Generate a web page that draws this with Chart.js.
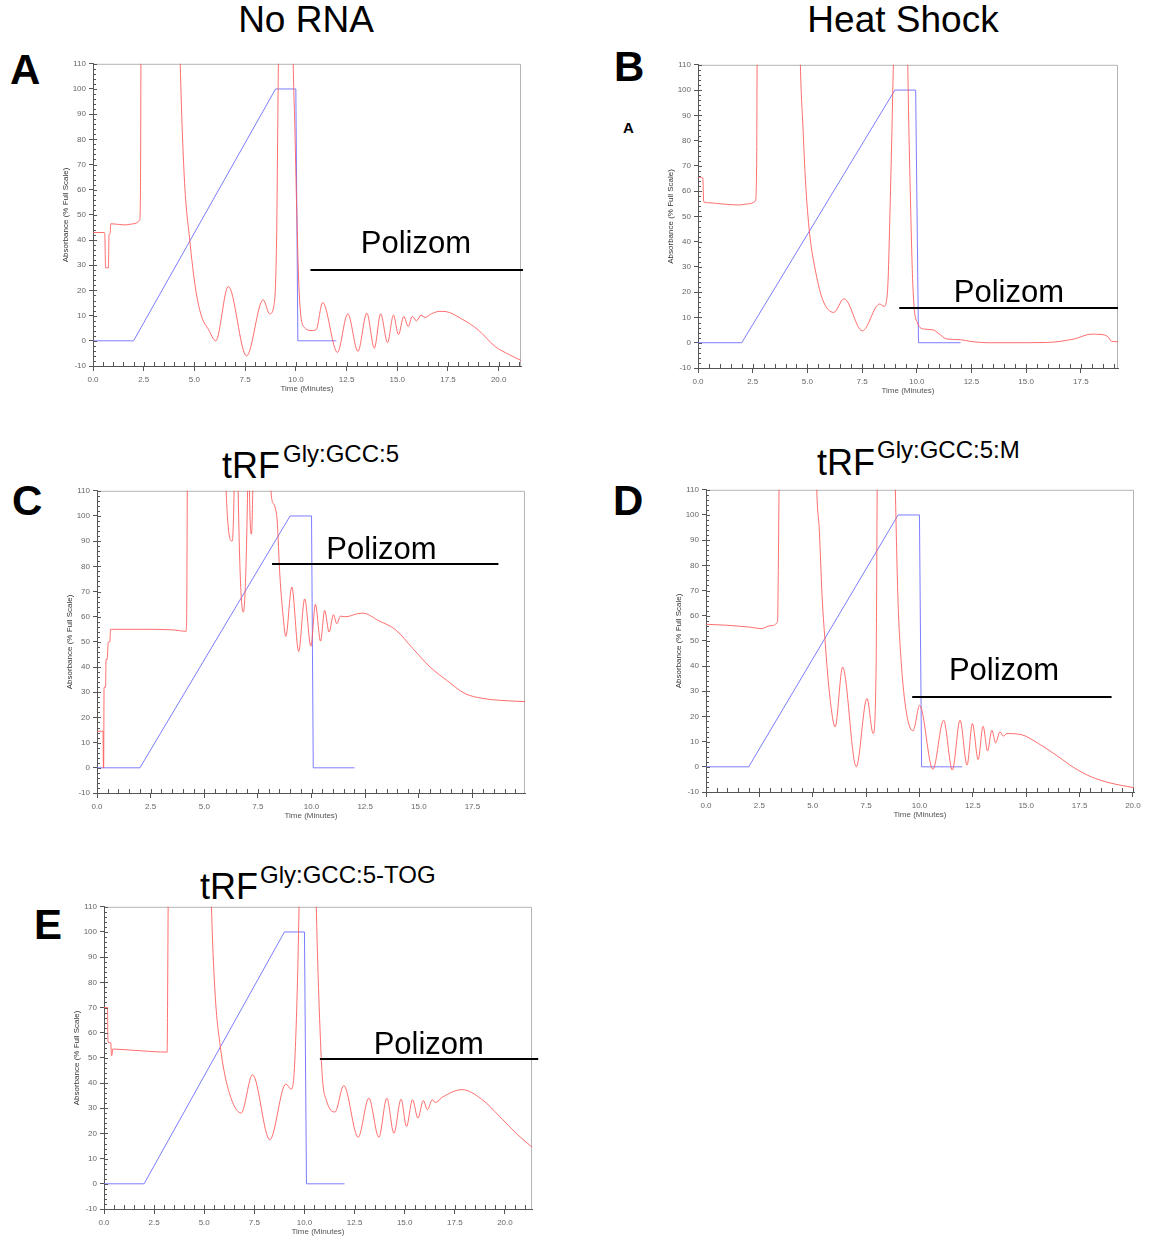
<!DOCTYPE html>
<html>
<head>
<meta charset="utf-8">
<script src="https://cdn.jsdelivr.net/npm/chart.js@4.4.1/dist/chart.umd.min.js"></script>
<style>
  body { margin: 0; background: #fff; font-family: Arial, "Liberation Sans", sans-serif; }
  #page { position: relative; width: 1150px; height: 1241px; overflow: hidden; }
  canvas { position: absolute; }
  .txt { position: absolute; line-height: 1; white-space: nowrap; color: #000; }
  .head { font-size: 37px; width: 300px; text-align: center; }
  .letter { font-size: 42px; font-weight: bold; }
  .trf { font-size: 36px; }
  .sup { font-size: 24px; }
</style>
</head>
<body>
<div id="page">
  <div class="txt head" style="left:156px; top:1px;">No RNA</div>
  <div class="txt head" style="left:753px; top:1px;">Heat Shock</div>

  <div class="txt letter" style="left:10px; top:49px;">A</div>
  <div class="txt letter" style="left:614px; top:46px;">B</div>
  <div class="txt letter" style="left:12px; top:480px;">C</div>
  <div class="txt letter" style="left:613px; top:480px;">D</div>
  <div class="txt letter" style="left:34px; top:904px;">E</div>
  <div class="txt" style="left:623px; top:120px; font-size:15px; font-weight:bold;">A</div>

  <div class="txt trf" style="left:222px; top:448px;">tRF</div>
  <div class="txt sup" style="left:283px; top:442px;">Gly:GCC:5</div>
  <div class="txt trf" style="left:817px; top:445px;">tRF</div>
  <div class="txt sup" style="left:877px; top:438px;">Gly:GCC:5:M</div>
  <div class="txt trf" style="left:200px; top:869px;">tRF</div>
  <div class="txt sup" style="left:260px; top:863px;">Gly:GCC:5-TOG</div>

  <canvas id="chartA"></canvas>
  <canvas id="chartB"></canvas>
  <canvas id="chartC"></canvas>
  <canvas id="chartD"></canvas>
  <canvas id="chartE"></canvas>
</div>

<script>
// ---------------------------------------------------------------
// 資料：時間 (分) 與吸光度 (% Full Scale)，off-scale 的峰值以 140 表示

// A: No RNA
const aTime = [0, 0.55, 0.58, 0.62, 0.76, 0.79, 0.84, 0.88, 1.6, 2.0, 2.3, 2.34, 2.38, 4.2, 4.3, 4.5, 4.77, 5.05, 5.34, 5.7, 6.05, 6.67, 7.57, 8.39, 8.71, 8.92, 9.05, 9.14, 9.2, 9.82, 9.87, 9.95, 10.04, 10.16, 10.38, 10.8, 11.0, 11.32, 12.05, 12.56, 13.06, 13.5, 13.87, 14.18, 14.52, 14.81, 15.06, 15.32, 15.54, 15.74, 15.95, 16.17, 16.37, 16.7, 17.1, 17.4, 18.13, 18.98, 19.83, 20.5, 21.1];
const aAbs  = [43, 43, 42.5, 29, 29, 42, 42.5, 46.5, 46, 46.5, 48, 60, 140, 150, 110, 65, 40, 21, 10, 4.4, 0, 21.6, -6, 16.3, 10.7, 14, 40, 110, 140, 140, 110, 85, 53, 20, 5.7, 4.1, 4.4, 15.2, -4.6, 10.7, -4.2, 11, -2.9, 10.7, -0.7, 10.2, 2.5, 9.7, 5.7, 9.7, 7.9, 10.2, 9.3, 10.8, 11.7, 11.6, 8.9, 4.4, -2.3, -5.4, -7.8];

// B: Heat Shock
const bTime = [0, 0.22, 0.26, 0.5, 1.0, 1.9, 2.3, 2.62, 2.68, 2.72, 4.6, 4.68, 4.8, 4.91, 5.1, 5.39, 5.7, 6.2, 6.68, 7.51, 8.3, 8.5, 8.66, 8.8, 8.93, 9.0, 9.55, 9.59, 9.72, 9.83, 10.03, 10.35, 10.74, 10.98, 11.37, 12.0, 12.47, 13.26, 14.36, 15.94, 17.2, 17.98, 18.38, 18.77, 18.86, 18.9, 19.2];
const bAbs  = [65.5, 65.2, 55.8, 55.4, 55, 54.5, 55, 56, 70, 140, 150, 110, 85, 64.5, 43.4, 27.6, 17, 12, 17.4, 4.7, 15.3, 14.4, 20, 60, 110, 140, 140, 110, 54, 21, 7.8, 5.4, 5.1, 3.8, 1.5, 1.2, 0.5, 0, 0, 0.1, 1.5, 3.4, 3.3, 2.1, 0.8, 0.6, 0.4];

// C: tRF Gly:GCC:5
const cTime = [0, 0.28, 0.3, 0.31, 0.33, 0.4, 0.42, 0.47, 0.52, 0.55, 0.6, 0.63, 0.67, 2.0, 3.5, 4.15, 4.18, 4.21, 4.25, 5.95, 6.02, 6.3, 6.39, 6.43, 6.54, 6.58, 6.82, 7.02, 7.06, 7.08, 7.11, 7.2, 7.26, 7.3, 8.05, 8.11, 8.24, 8.32, 8.4, 8.52, 8.68, 8.8, 9.08, 9.4, 9.68, 9.97, 10.18, 10.42, 10.61, 10.82, 11.02, 11.18, 11.34, 11.6, 12.15, 12.4, 13.11, 13.92, 14.73, 15.53, 16.34, 17.15, 17.95, 18.76, 19.95];
const cAbs  = [14.5, 14.5, 0, 0, 32, 32, 43, 43, 49.5, 50, 50, 55, 55, 55, 54.8, 54.2, 60, 110, 140, 140, 110, 90, 110, 140, 140, 110, 61.8, 110, 140, 140, 110, 92.8, 110, 140, 140, 110, 104.7, 102.8, 98, 77, 59.8, 52.2, 71.8, 46.2, 67.1, 48.3, 64.9, 50.3, 62.5, 53.9, 60.8, 57.2, 60.2, 60, 61.2, 61.4, 58.5, 54.8, 47.3, 40, 34.5, 29.5, 27.6, 26.8, 26.3];

// D: tRF Gly:GCC:5:M
const dTime = [0, 1.0, 2.0, 2.6, 3.0, 3.35, 3.39, 3.42, 3.45, 5.1, 5.19, 5.31, 5.44, 5.6, 5.77, 6.05, 6.4, 7.04, 7.54, 7.83, 7.97, 8.02, 8.06, 8.8, 8.87, 8.99, 9.15, 9.4, 9.7, 10.01, 10.63, 11.13, 11.54, 11.9, 12.23, 12.48, 12.75, 12.98, 13.19, 13.39, 13.57, 13.77, 13.93, 14.1, 14.76, 15.58, 16.41, 17.23, 18.05, 18.88, 20.05];
const dAbs  = [56.6, 56.2, 55.5, 54.9, 56, 57.5, 80, 110, 140, 150, 110, 93.8, 67.4, 47.6, 30.4, 15.9, 39.6, 0, 27.1, 13.2, 40, 110, 140, 140, 110, 67.4, 41, 21, 14.3, 24.4, -1, 18.5, -1.3, 18.5, 0.7, 17.2, 2.9, 16.1, 6.3, 14.5, 9.5, 13.9, 12.2, 13.2, 12.8, 9.2, 4.6, -0.3, -4, -6.3, -8.3];

// E: tRF Gly:GCC:5-TOG
const eTime = [0, 0.17, 0.2, 0.34, 0.37, 0.4, 0.43, 0.47, 1.5, 3.15, 3.17, 3.2, 3.24, 5.25, 5.36, 5.54, 5.8, 6.16, 6.84, 7.41, 8.27, 9.07, 9.34, 9.52, 9.73, 9.78, 10.5, 10.59, 10.71, 10.89, 11.1, 11.52, 11.96, 12.68, 13.21, 13.71, 14.11, 14.46, 14.82, 15.09, 15.39, 15.66, 15.93, 16.13, 16.38, 16.52, 16.9, 17.86, 18.84, 19.73, 20.63, 21.35];
const eAbs  = [70, 70, 56.2, 56, 51, 51, 53.5, 53.5, 53, 52.3, 70, 110, 140, 150, 110, 75.8, 54.6, 38.7, 28.1, 43.3, 17.5, 39.6, 37.6, 49.3, 110, 140, 150, 110, 75.8, 42.6, 33, 28.5, 39, 18.5, 34, 18.5, 34, 20.1, 33.6, 22.8, 33.4, 26.1, 33.1, 29.4, 33.4, 32.3, 34.5, 37.4, 33.6, 26.8, 19.5, 14.6];

// 藍線：梯度 (%B)
const gradLevel = [0, 0, 100, 100, 0, 0];
const aGradTime = [0, 2.0, 9.0, 10.0, 10.1, 12.0];
const bGradTime = [0, 2.0, 9.0, 9.95, 10.08, 12.0];
const cGradTime = [0, 2.0, 9.0, 10.0, 10.08, 12.0];
const dGradTime = [0, 2.0, 9.0, 10.0, 10.1, 12.0];
const eGradTime = [0, 2.0, 9.0, 10.0, 10.1, 12.0];

// x 軸最大值 (分)
const xMaxList = { A: 21.1, B: 19.2, C: 19.95, D: 20.05, E: 21.35 };

// Polizom 標示：文字左下角 (tx, ty) 與橫線 (x1 → x2, y)
const polizomA = { tx: 13.2, ty: 35, x1: 10.72, x2: 21.2, ly: 28.3 };
const polizomB = { tx: 11.69, ty: 16, x1: 9.2, x2: 19.2, ly: 13.6 };
const polizomC = { tx: 10.69, ty: 83, x1: 8.16, x2: 18.71, ly: 81 };
const polizomD = { tx: 11.38, ty: 34.6, x1: 9.66, x2: 19.0, ly: 27.7 };
const polizomE = { tx: 13.45, ty: 51.7, x1: 10.77, x2: 21.66, ly: 49.5 };

// 圖區位置 (頁面像素)：left, top, right, bottom
const plotRects = {
  A: [93, 64, 521, 366],
  B: [698, 65, 1118, 368],
  C: [97, 491, 525, 793],
  D: [706, 490, 1134, 792],
  E: [104, 907, 532, 1209]
};

// ---------------------------------------------------------------
Chart.defaults.font.family = 'Arial, "Liberation Sans", sans-serif';

const Y_AXIS_W = 34;
const X_AXIS_H = 28;
const TOP_OFF = 8;     // 圖區上方實際留白 (刻度文字一半高度)
const PAD_RIGHT = 12;

function toPoints(xs, ys) {
  return xs.map((x, i) => ({ x: x, y: ys[i] }));
}

// 邊框 + 內側小刻度
const framePlugin = {
  id: 'frameTicks',
  beforeDatasetsDraw(chart) {
    const { ctx, chartArea: a } = chart;
    ctx.save();
    ctx.strokeStyle = '#b4b4b4';
    ctx.lineWidth = 1;
    ctx.beginPath();
    ctx.moveTo(a.left, a.top + 0.5);
    ctx.lineTo(a.right - 0.5, a.top + 0.5);
    ctx.lineTo(a.right - 0.5, a.bottom);
    ctx.stroke();
    ctx.restore();
  },
  afterDraw(chart) {
    const { ctx, chartArea: a, scales } = chart;
    const x = scales.x, y = scales.y;
    ctx.save();
    ctx.strokeStyle = '#555';
    ctx.lineWidth = 1;
    ctx.beginPath();
    for (let v = 0; v <= x.max + 1e-6; v += 0.5) {
      const px = Math.round(x.getPixelForValue(v)) + 0.5;
      ctx.moveTo(px, a.bottom);
      ctx.lineTo(px, a.bottom - 4);
    }
    for (let v = -10; v <= 110; v += 2) {
      const py = Math.round(y.getPixelForValue(v)) + 0.5;
      ctx.moveTo(a.left, py);
      ctx.lineTo(a.left + (v % 10 === 0 ? 4 : 3), py);
    }
    ctx.stroke();

    // Polizom 文字與橫線
    const p = chart.options.plugins.polizom;
    if (p) {
      ctx.fillStyle = '#000';
      ctx.font = '31px Arial, "Liberation Sans", sans-serif';
      ctx.textBaseline = 'alphabetic';
      ctx.fillText('Polizom', x.getPixelForValue(p.tx), y.getPixelForValue(p.ty));
      const ly = Math.round(y.getPixelForValue(p.ly));
      ctx.strokeStyle = '#000';
      ctx.lineWidth = 2;
      ctx.beginPath();
      ctx.moveTo(x.getPixelForValue(p.x1), ly);
      ctx.lineTo(x.getPixelForValue(p.x2), ly);
      ctx.stroke();
    }
    ctx.restore();
  }
};

function makeChart(id, key, redX, redY, gradX, polizom) {
  const r = plotRects[key];
  const canvas = document.getElementById(id);
  const w = r[2] - r[0] + Y_AXIS_W + PAD_RIGHT;
  const h = r[3] - r[1] + X_AXIS_H + TOP_OFF;
  canvas.width = w;
  canvas.height = h;
  canvas.style.left = (r[0] - Y_AXIS_W) + 'px';
  canvas.style.top = (r[1] - TOP_OFF) + 'px';
  canvas.style.width = w + 'px';
  canvas.style.height = h + 'px';

  return new Chart(canvas.getContext('2d'), {
    type: 'line',
    data: {
      datasets: [
        {
          label: 'Absorbance',
          data: toPoints(redX, redY),
          borderColor: 'rgba(255, 85, 85, 0.85)',
          borderWidth: 1,
          cubicInterpolationMode: 'monotone',
          pointRadius: 0
        },
        {
          label: 'Gradient',
          data: toPoints(gradX, gradLevel),
          borderColor: 'rgba(110, 110, 255, 0.9)',
          borderWidth: 1,
          tension: 0,
          pointRadius: 0
        }
      ]
    },
    options: {
      responsive: false,
      animation: false,
      layout: { padding: { top: 2, right: PAD_RIGHT, left: 0, bottom: 0 } },
      plugins: {
        legend: { display: false },
        tooltip: { enabled: false },
        polizom: polizom
      },
      scales: {
        x: {
          type: 'linear',
          min: 0,
          max: xMaxList[key],
          ticks: {
            stepSize: 2.5,
            includeBounds: false,
            autoSkip: false,
            maxRotation: 0,
            padding: 4,
            color: '#666',
            font: { size: 8 },
            callback: v => Number(v).toFixed(1)
          },
          grid: { drawOnChartArea: false, tickLength: 5, color: '#555' },
          border: { color: '#555' },
          title: { display: true, text: 'Time (Minutes)', color: '#555', font: { size: 8 }, padding: 0 },
          afterFit: s => { s.height = X_AXIS_H; }
        },
        y: {
          min: -10,
          max: 110,
          ticks: { stepSize: 10, padding: 3, color: '#666', font: { size: 8 } },
          grid: { drawOnChartArea: false, tickLength: 4, color: '#555' },
          border: { color: '#555' },
          title: { display: true, text: 'Absorbance (% Full Scale)', color: '#333', font: { size: 8 }, padding: { top: 2, bottom: 0 } },
          afterFit: s => { s.width = Y_AXIS_W; }
        }
      }
    },
    plugins: [framePlugin]
  });
}

const chartA = makeChart('chartA', 'A', aTime, aAbs, aGradTime, polizomA);
const chartB = makeChart('chartB', 'B', bTime, bAbs, bGradTime, polizomB);
const chartC = makeChart('chartC', 'C', cTime, cAbs, cGradTime, polizomC);
const chartD = makeChart('chartD', 'D', dTime, dAbs, dGradTime, polizomD);
const chartE = makeChart('chartE', 'E', eTime, eAbs, eGradTime, polizomE);
</script>
</body>
</html>
